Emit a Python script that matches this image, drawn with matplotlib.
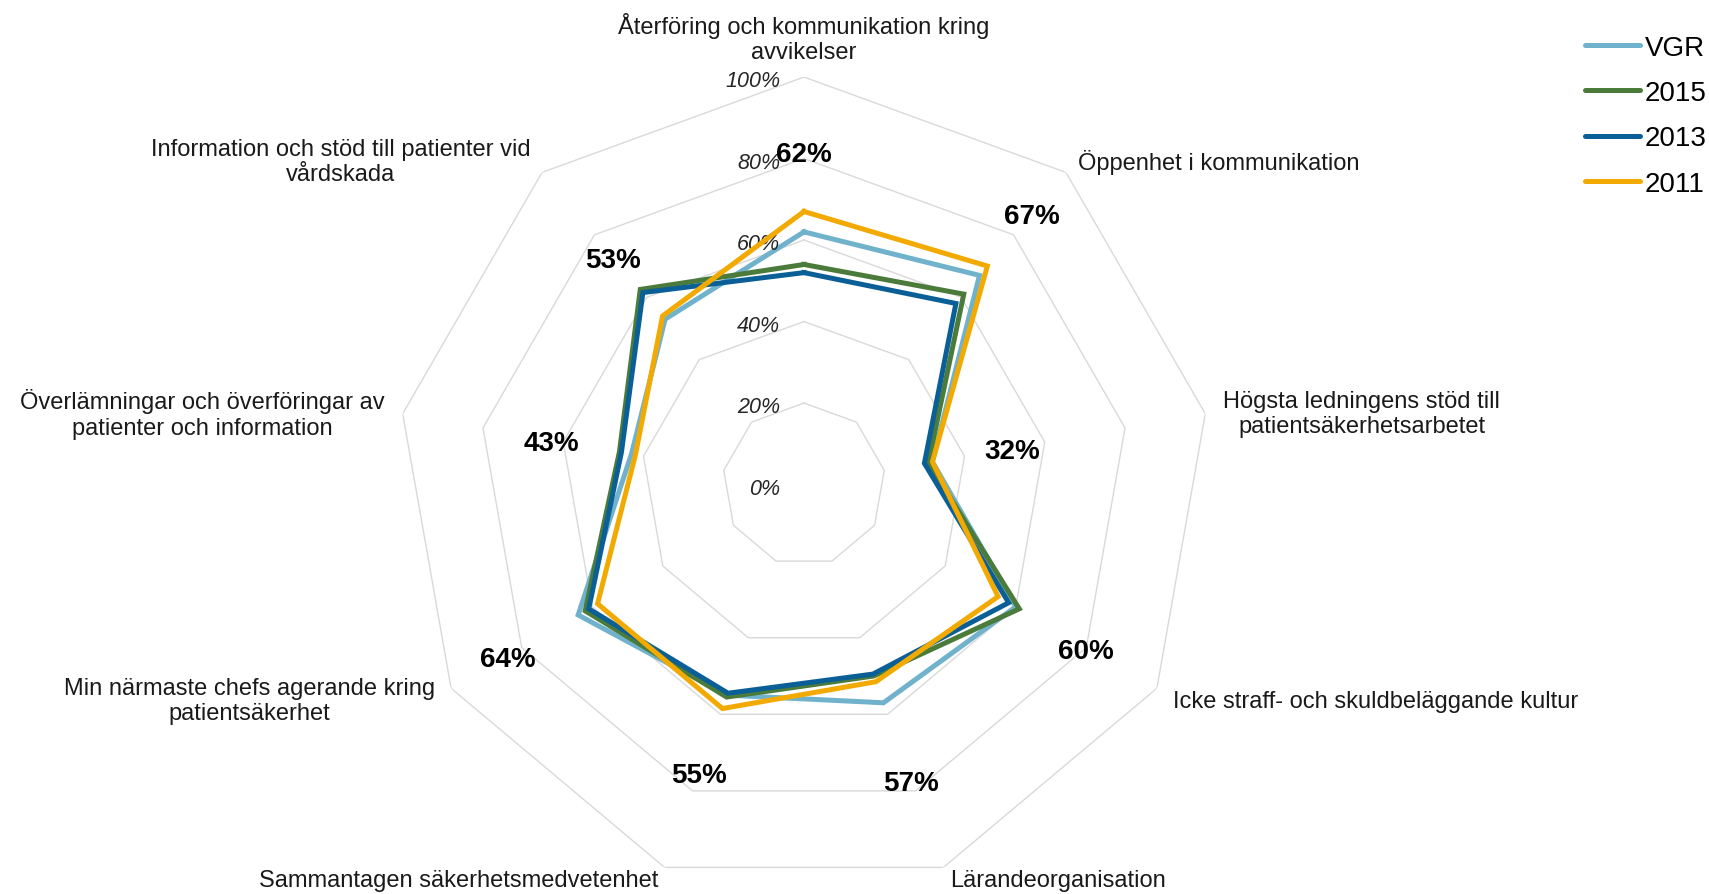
import numpy as np
import matplotlib
matplotlib.use("Agg")
import matplotlib.pyplot as plt

plt.rcParams["font.family"] = ["Liberation Sans", "DejaVu Sans"]

kategorier = [
    "Återföring och kommunikation kring\navvikelser",
    "Öppenhet i kommunikation",
    "Högsta ledningens stöd till\npatientsäkerhetsarbetet",
    "Icke straff- och skuldbeläggande kultur",
    "Lärandeorganisation",
    "Sammantagen säkerhetsmedvetenhet",
    "Min närmaste chefs agerande kring\npatientsäkerhet",
    "Överlämningar och överföringar av\npatienter och information",
    "Information och stöd till patienter vid\nvårdskada",
]
vgr = [0.62, 0.67, 0.32, 0.60, 0.57, 0.55, 0.64, 0.43, 0.53]
ar2015 = [0.54, 0.61, 0.31, 0.61, 0.50, 0.555, 0.62, 0.46, 0.625]
ar2013 = [0.52, 0.58, 0.30, 0.58, 0.495, 0.545, 0.61, 0.455, 0.615]
ar2011 = [0.67, 0.70, 0.32, 0.55, 0.515, 0.585, 0.585, 0.42, 0.54]
serier = ["VGR", "2015", "2013", "2011"]
ticks = [0, 0.2, 0.4, 0.6, 0.8, 1.0]
tick_etiketter = ["0%", "20%", "40%", "60%", "80%", "100%"]

farger = ["#70B2CC", "#4B7B3B", "#0A5F97", "#F2AA00"]

n = len(kategorier)
vinklar = np.linspace(0, 2 * np.pi, n, endpoint=False)
stang = np.append(vinklar, vinklar[0])

fig = plt.figure(figsize=(17.09, 8.95), dpi=100)
ax = fig.add_axes([0.2320, 0.0022, 0.4769, 0.9106], projection="polar")
ax.set_theta_offset(np.pi / 2)
ax.set_theta_direction(-1)
ax.set_ylim(0, 1)
ax.grid(False)
ax.spines["polar"].set_visible(False)
ax.set_xticks([])
ax.set_yticks([])

# rutnät som niohörningar
for r in ticks[1:]:
    ax.plot(stang, [r] * (n + 1), color="#D9D9D9", lw=1, zorder=1)

for r, lab in zip(ticks, tick_etiketter):
    ax.annotate(lab, xy=(0, r), xytext=(-17, -2.5), textcoords="offset points",
                ha="right", va="center", fontsize=15.5, style="italic", color="#262626",
                annotation_clip=False)

for i, (namn, varden) in enumerate(zip(serier, [vgr, ar2015, ar2013, ar2011])):
    v = np.append(varden, varden[0])
    ax.plot(stang, v, color=farger[i], lw=3.6, label=namn,
            solid_joinstyle="miter", zorder=2 + i)

# procentetiketter för VGR
for vk, v in zip(vinklar, vgr):
    ax.annotate(f"{round(v * 100)}%", xy=(vk, v + 0.2), xytext=(0, -2.4),
                textcoords="offset points", ha="center", va="center",
                fontsize=20, fontweight="bold", color="black", zorder=10,
                annotation_clip=False)

# kategorietiketter
for vk, txt in zip(vinklar, kategorier):
    grad = np.degrees(vk)
    if grad == 0:
        ha, va, dy = "center", "bottom", -3.2
    elif grad < 180:
        ha, va, dy = "left", "center", -2.2
    else:
        ha, va, dy = "right", "center", -2.2
    if 150 < grad < 210:
        dy = 3.5  # nedersta etiketterna får inte klippas
    ax.annotate(txt, xy=(vk, 1.045), xytext=(0, dy), textcoords="offset points",
                ha=ha, va=va, fontsize=17, multialignment="center", color="#1a1a1a",
                annotation_clip=False)

leg = fig.legend(loc="upper left", bbox_to_anchor=(1585 / 1709, 1 - 35.5 / 895),
                 frameon=False, fontsize=20, handlelength=1.98, handletextpad=0.18,
                 labelspacing=0.70, borderpad=0, borderaxespad=0)
for h in leg.get_lines():
    h.set_solid_capstyle("round")

fig.savefig("out.png", dpi=100)
